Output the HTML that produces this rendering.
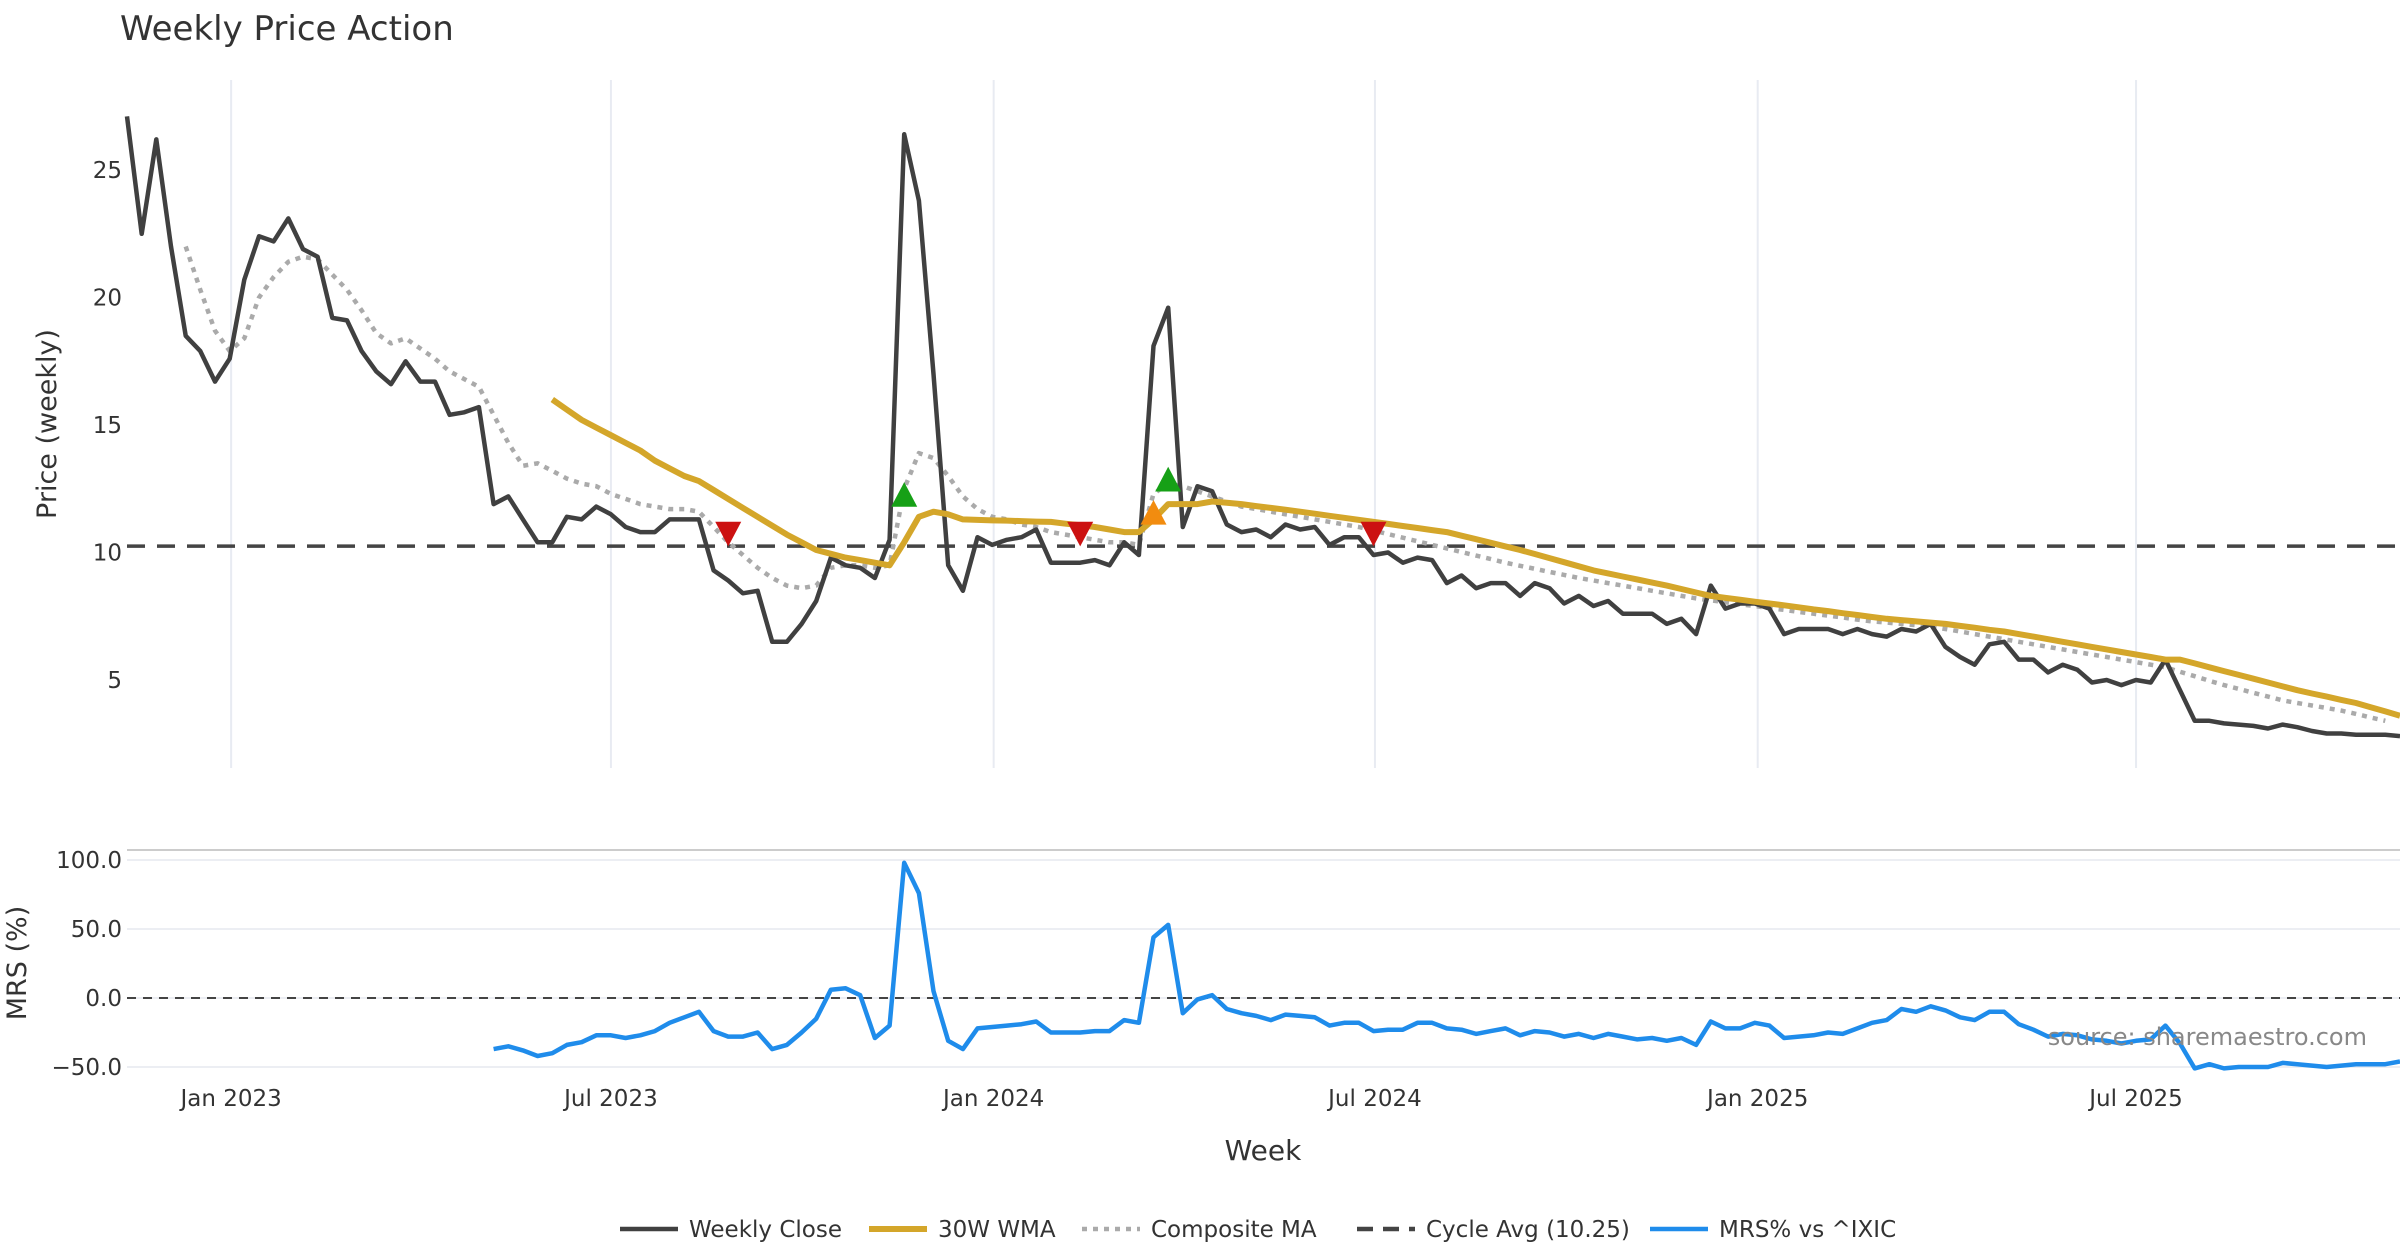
<!DOCTYPE html>
<html><head><meta charset="utf-8"><style>
html,body{margin:0;padding:0;background:#fff;}
svg{display:block;font-family:"DejaVu Sans","Liberation Sans",sans-serif;}
</style></head><body>
<svg id="chart" width="2400" height="1260" viewBox="0 0 2400 1260" xmlns="http://www.w3.org/2000/svg">
<rect width="2400" height="1260" fill="#fff"/>
<text x="120" y="40" font-size="34" fill="#333">Weekly Price Action</text>
<g id="grid"></g>
<g id="series"></g>
<g id="axes"></g>
<text transform="translate(56,424) rotate(-90)" text-anchor="middle" font-size="27" fill="#333">Price (weekly)</text>
<text transform="translate(26,963) rotate(-90)" text-anchor="middle" font-size="27" fill="#333">MRS (%)</text>
<text x="1263" y="1160" text-anchor="middle" font-size="28" fill="#333">Week</text>
<text x="2367" y="1045" text-anchor="end" font-size="24" fill="#888">source: sharemaestro.com</text>
<g id="legend"></g>
</svg>
<script>
const NS="http://www.w3.org/2000/svg";
const closeVals=[27.1,22.5,26.2,22.0,18.5,17.9,16.7,17.6,20.7,22.4,22.2,23.1,21.9,21.6,19.2,19.1,17.9,17.1,16.6,17.5,16.7,16.7,15.4,15.5,15.7,11.9,12.2,11.3,10.4,10.4,11.4,11.3,11.8,11.5,11.0,10.8,10.8,11.3,11.3,11.3,9.3,8.9,8.4,8.5,6.5,6.5,7.2,8.1,9.8,9.5,9.4,9.0,10.5,26.4,23.8,17.0,9.5,8.5,10.6,10.3,10.5,10.6,10.9,9.6,9.6,9.6,9.7,9.5,10.4,9.9,18.1,19.6,11.0,12.6,12.4,11.1,10.8,10.9,10.6,11.1,10.9,11.0,10.3,10.6,10.6,9.9,10.0,9.6,9.8,9.7,8.8,9.1,8.6,8.8,8.8,8.3,8.8,8.6,8.0,8.3,7.9,8.1,7.6,7.6,7.6,7.2,7.4,6.8,8.7,7.8,8.0,8.0,7.8,6.8,7.0,7.0,7.0,6.8,7.0,6.8,6.7,7.0,6.9,7.2,6.3,5.9,5.6,6.4,6.5,5.8,5.8,5.3,5.6,5.4,4.9,5.0,4.8,5.0,4.9,5.8,4.6,3.4,3.4,3.3,3.25,3.2,3.1,3.25,3.15,3.0,2.9,2.9,2.85,2.85,2.85,2.8];
const wmaStart=29;
const wmaVals=[16.0,15.6,15.2,14.9,14.6,14.3,14.0,13.6,13.3,13.0,12.8,12.45,12.1,11.75,11.4,11.05,10.7,10.4,10.1,9.95,9.8,9.7,9.6,9.5,10.4,11.4,11.6,11.5,11.3,11.28,11.26,11.25,11.23,11.21,11.2,11.13,11.07,11.0,10.9,10.8,10.8,11.3,11.9,11.9,11.9,12.0,11.95,11.9,11.82,11.75,11.68,11.6,11.52,11.44,11.36,11.28,11.2,11.12,11.04,10.96,10.88,10.8,10.66,10.52,10.38,10.24,10.1,9.94,9.78,9.62,9.46,9.3,9.18,9.06,8.94,8.82,8.7,8.57,8.43,8.3,8.22,8.15,8.07,8.0,7.93,7.85,7.77,7.7,7.62,7.55,7.47,7.4,7.35,7.3,7.25,7.2,7.12,7.05,6.97,6.9,6.8,6.7,6.6,6.5,6.4,6.3,6.2,6.1,6.0,5.9,5.8,5.8,5.65,5.5,5.35,5.2,5.05,4.9,4.75,4.6,4.47,4.35,4.22,4.1,3.93,3.77,3.6];
const compStart=4;
const compVals=[22.0,20.3,18.7,17.9,18.4,20.0,20.8,21.4,21.6,21.5,20.9,20.3,19.5,18.6,18.2,18.4,18.0,17.6,17.1,16.8,16.5,15.4,14.3,13.4,13.5,13.2,12.9,12.7,12.6,12.3,12.1,11.9,11.8,11.7,11.7,11.6,11.0,10.4,9.9,9.4,9.0,8.7,8.6,8.7,9.4,9.5,9.5,9.4,9.5,12.5,13.9,13.7,13.0,12.2,11.7,11.4,11.3,11.1,11.0,10.8,10.7,10.6,10.5,10.4,10.4,10.3,12.3,12.7,12.6,12.4,12.2,12.0,11.8,11.7,11.6,11.5,11.4,11.3,11.2,11.1,11.0,10.86,10.72,10.58,10.44,10.3,10.16,10.02,9.88,9.74,9.6,9.48,9.36,9.24,9.12,9.0,8.9,8.8,8.7,8.6,8.5,8.4,8.3,8.2,8.12,8.05,7.97,7.9,7.82,7.75,7.67,7.6,7.52,7.45,7.37,7.3,7.25,7.2,7.15,7.1,7.0,6.9,6.8,6.7,6.6,6.5,6.4,6.3,6.2,6.1,6.0,5.9,5.8,5.7,5.6,5.5,5.32,5.15,4.97,4.8,4.65,4.5,4.35,4.2,4.1,4.0,3.9,3.8,3.67,3.53,3.4];
const mrsStart=25;
const mrsVals=[-37,-35,-38,-42,-40,-34,-32,-27,-27,-29,-27,-24,-18,-14,-10,-24,-28,-28,-25,-37,-34,-25,-15,6,7,2,-29,-20,98,76,5,-31,-37,-22,-21,-20,-19,-17,-25,-25,-25,-24,-24,-16,-18,44,53,-11,-1,2,-8,-11,-13,-16,-12,-13,-14,-20,-18,-18,-24,-23,-23,-18,-18,-22,-23,-26,-24,-22,-27,-24,-25,-28,-26,-29,-26,-28,-30,-29,-31,-29,-34,-17,-22,-22,-18,-20,-29,-28,-27,-25,-26,-22,-18,-16,-8,-10,-6,-9,-14,-16,-10,-10,-19,-23,-28,-26,-27,-30,-31,-33,-31,-30,-20,-33,-51,-48,-51,-50,-50,-50,-47,-48,-49,-50,-49,-48,-48,-48,-46];
const cycleAvg=10.25;
const sellIdx=[41,65,85];
const buyIdx=[53,71];
const warnIdx=[70];
const priceTicks=[5,10,15,20,25];
const mrsTicks=[100,50,0,-50];
const xTickLabels=["Jan 2023","Jul 2023","Jan 2024","Jul 2024","Jan 2025","Jul 2025"];
const xTickWeeks=[7.1,33.0,59.1,85.1,111.2,137.0];

const X0=127,X1=2400,N=closeVals.length;
const xs=i=>X0+i*(X1-X0)/(N-1);
const yP=v=>170+(25-v)*(680-170)/20;
const yM=v=>860+(100-v)*(1067-860)/150;
function el(t,a,p){const e=document.createElementNS(NS,t);for(const k in a)e.setAttribute(k,a[k]);(p||document.getElementById('series')).appendChild(e);return e;}
const grid=document.getElementById('grid'),axes=document.getElementById('axes'),ser=document.getElementById('series'),leg=document.getElementById('legend');

xTickWeeks.forEach((w,k)=>{
  const g=el('line',{x1:xs(w),x2:xs(w),y1:80,y2:768,stroke:'#e8ebf2','stroke-width':2},grid);
  
  
  const t=el('text',{x:xs(w),y:1106,'text-anchor':'middle','font-size':23,fill:'#333'},axes);
  t.textContent=xTickLabels[k];
  
  
});
priceTicks.forEach(v=>{
  const t=el('text',{x:122,y:yP(v)+8,'text-anchor':'end','font-size':23,fill:'#333'},axes);
  t.textContent=v;
  
  
});
const sep=el('line',{x1:127,x2:2400,y1:850,y2:850,stroke:'#ccc','stroke-width':2},grid);


mrsTicks.forEach(v=>{
  const g=el('line',{x1:127,x2:2400,y1:yM(v),y2:yM(v),stroke:'#eceef3','stroke-width':2},grid);
  
  
  const t=el('text',{x:122,y:yM(v)+8,'text-anchor':'end','font-size':23,fill:'#333'},axes);
  t.textContent=(v<0?'\u2212'+Math.abs(v).toFixed(1):v.toFixed(1));
  
  
});
const z=el('line',{x1:127,x2:2400,y1:yM(0),y2:yM(0),stroke:'#444','stroke-width':2,'stroke-dasharray':'9,7'});



function poly(vals,start,yf,attrs,name){
  const pts=vals.map((v,i)=>xs(i+start).toFixed(1)+','+yf(v).toFixed(1)).join(' ');
  const p=el('polyline',Object.assign({points:pts,fill:'none','stroke-linejoin':'round'},attrs));
  
  
}
const cy=el('line',{x1:127,x2:2400,y1:yP(cycleAvg),y2:yP(cycleAvg),stroke:'#444','stroke-width':3.5,'stroke-dasharray':'18,12'});


poly(compVals,compStart,yP,{stroke:'#aaa','stroke-width':4.5,'stroke-dasharray':'5,6'},'composite-ma-line');
poly(closeVals,0,yP,{stroke:'#404040','stroke-width':4.5},'weekly-close-line');
poly(wmaVals,wmaStart,yP,{stroke:'#d4a62a','stroke-width':6},'wma-30w-line');
poly(mrsVals,mrsStart,yM,{stroke:'#1f8ceb','stroke-width':4.5},'mrs-line');

function tri(i,v,up,color,name){
  const x=xs(i),y=yP(v),s=13;
  const pts=up?`${x-s},${y+s*0.8} ${x+s},${y+s*0.8} ${x},${y-s*1.1}`:`${x-s},${y-s*0.8} ${x+s},${y-s*0.8} ${x},${y+s*1.1}`;
  const p=el('polygon',{points:pts,fill:color});
  
  
}
sellIdx.forEach(i=>tri(i,10.8,false,'#cc1111','sell-signal-marker'));
buyIdx.forEach(i=>tri(i,(i===53?12.2:12.8),true,'#16a016','buy-signal-marker'));
warnIdx.forEach(i=>tri(i,11.5,true,'#f28c0f','warning-signal-marker'));

const items=[["Weekly Close",'#404040','',620],["30W WMA",'#d4a62a','',869],["Composite MA",'#aaa','5,6',1082],["Cycle Avg (10.25)",'#444','16,10',1357],["MRS% vs ^IXIC",'#1f8ceb','',1650]];
items.forEach(([lab,c,d,x])=>{
  const g=el('g',{},leg);
  
  
  const a={x1:x,x2:x+58,y1:1229,y2:1229,stroke:c,'stroke-width':lab=="30W WMA"?6:4.5};
  if(d)a['stroke-dasharray']=d;
  el('line',a,g);
  const t=el('text',{x:x+69,y:1237,'font-size':23,fill:'#333'},g);
  t.textContent=lab;
});
</script>
</body></html>
